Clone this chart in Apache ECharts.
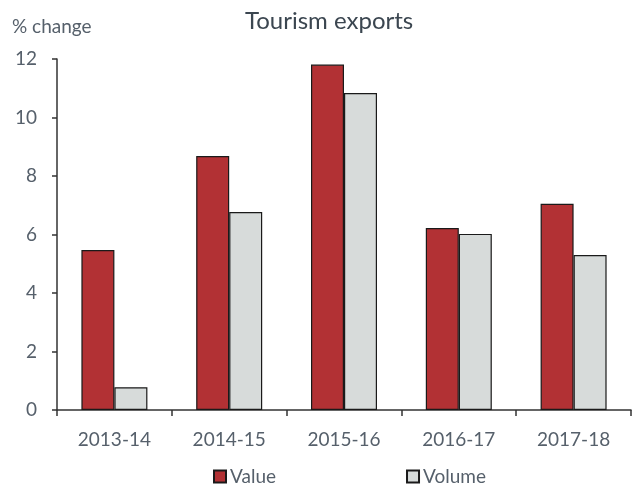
<!DOCTYPE html>
<html><head><meta charset="utf-8">
<script src="https://cdn.jsdelivr.net/npm/echarts@6/dist/echarts.min.js"></script>
<style>html,body{margin:0;padding:0;background:#fff}#c{width:632px;height:487px}</style>
</head><body><div id="c"></div>
<script>
const categories = ['2013-14','2014-15','2015-16','2016-17','2017-18'];
const valueSeries = [5.47, 8.68, 11.81, 6.22, 7.05];
const volumeSeries = [0.78, 6.77, 10.84, 6.02, 5.30];
const yTicks = [0, 2, 4, 6, 8, 10, 12];

const FONT = 'Lato';
const TXT = '#56606b';
const chart = echarts.init(document.getElementById('c'), null, {renderer:'canvas'});
chart.setOption({
  animation:false,
  title:{text:'Tourism exports', left:240, top:4,
    textStyle:{fontFamily:FONT, fontSize:24, fontWeight:'normal', color:'#3b4650'}},
  legend:{top:462, left:208, itemWidth:12, itemHeight:12, itemGap:130, icon:'rect',
    textStyle:{fontFamily:FONT, fontSize:19, color:TXT, padding:[0,0,0,-1]},
    data:['Value','Volume']},
  grid:{left:57, right:1, top:59, bottom:77, containLabel:false},
  xAxis:{type:'category', data:categories,
    axisLine:{lineStyle:{color:'#333', width:1.5}},
    axisTick:{show:true, length:6, alignWithLabel:false, lineStyle:{color:'#333', width:1.5}},
    axisLabel:{fontFamily:FONT, fontSize:19, color:TXT, margin:20}},
  yAxis:{type:'value', min:yTicks[0], max:yTicks[yTicks.length-1], interval:2,
    name:'% change', nameLocation:'end', nameGap:23,
    nameTextStyle:{fontFamily:FONT, fontSize:19, color:TXT, align:'left', padding:[0,0,0,-45]},
    axisLine:{show:true, lineStyle:{color:'#333', width:1.5}},
    axisTick:{show:true, length:5, lineStyle:{color:'#333', width:1.5}},
    splitLine:{show:false},
    axisLabel:{fontFamily:FONT, fontSize:19, color:TXT, margin:20}},
  series:[
    {name:'Value', type:'bar', data:valueSeries, barWidth:33, barGap:'0%',
      itemStyle:{color:'#b23134', borderColor:'#1a1a1a', borderWidth:1.2}},
    {name:'Volume', type:'bar', data:volumeSeries, barWidth:33, barGap:'0%',
      itemStyle:{color:'#d7dbda', borderColor:'#1a1a1a', borderWidth:1.2}}
  ]
});
</script></body></html>
